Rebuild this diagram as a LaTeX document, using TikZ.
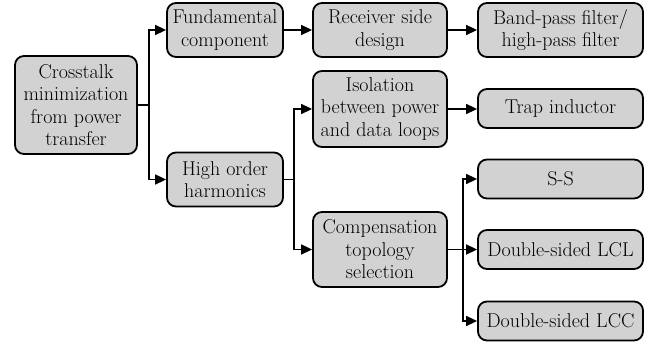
\documentclass[tikz,border=0pt]{standalone}
\usetikzlibrary{arrows.meta}
\definecolor{boxgray}{RGB}{210,210,210}
\tikzset{
  blk/.style={draw, line width=1.8pt, rounded corners=9pt, fill=boxgray,
    align=center, inner sep=0pt, font=\fontsize{20}{22.5}\selectfont},
  link/.style={line width=1.6pt},
  arr/.style={line width=1.6pt, -{Triangle[length=11pt,width=10pt]}},
}
\begin{document}
\begin{tikzpicture}[x=1pt,y=-1pt]
  \useasboundingbox (0,0) rectangle (657,344);

  \node[blk, minimum width=122pt, minimum height=98pt] (cross) at (76,105) {Crosstalk\\minimization\\from power\\transfer};

  \node[blk, minimum width=116pt, minimum height=54pt] (fund) at (225,30) {Fundamental\\component};
  \node[blk, minimum width=116pt, minimum height=54pt] (harm) at (225,179.5) {High order\\harmonics};

  \node[blk, minimum width=134pt, minimum height=54pt] (recv) at (380,30) {Receiver side\\design};
  \node[blk, minimum width=134pt, minimum height=76pt] (iso) at (380,109) {Isolation\\between power\\and data loops};
  \node[blk, minimum width=134pt, minimum height=75pt] (comp) at (380,249.5) {Compensation\\topology\\selection};

  \node[blk, minimum width=165pt, minimum height=54pt] (filt) at (560.5,30) {Band-pass filter/\\high-pass filter};
  \node[blk, minimum width=165pt, minimum height=39pt] (trap) at (560.5,108.5) {Trap inductor};
  \node[blk, minimum width=165pt, minimum height=39pt] (ss) at (560.5,179) {S-S};
  \node[blk, minimum width=165pt, minimum height=39pt] (lcl) at (560.5,249.5) {Double-sided LCL};
  \node[blk, minimum width=165pt, minimum height=39pt] (lcc) at (560.5,321) {Double-sided LCC};

  % branch points
  \coordinate (j1) at ([xshift=11pt]cross.east);
  \coordinate (j2) at ([xshift=10pt]harm.east);
  \coordinate (j3) at ([xshift=15pt]comp.east);

  \draw[link] (cross.east) -- (j1);
  \draw[arr] (j1) |- (fund.west);
  \draw[arr] (j1) |- (harm.west);

  \draw[arr] (fund) -- (recv);
  \draw[arr] (recv) -- (filt);

  \draw[link] (harm.east) -- (j2);
  \draw[arr] (j2) |- (iso.west);
  \draw[arr] (j2) |- (comp.west);

  \draw[arr] (iso.east) -- (trap.west |- iso.east);

  \draw[link] (comp.east) -- (j3);
  \draw[arr] (j3) |- (ss.west);
  \draw[arr] (j3) |- (lcl.west);
  \draw[arr] (j3) |- (lcc.west);
\end{tikzpicture}
\end{document}
